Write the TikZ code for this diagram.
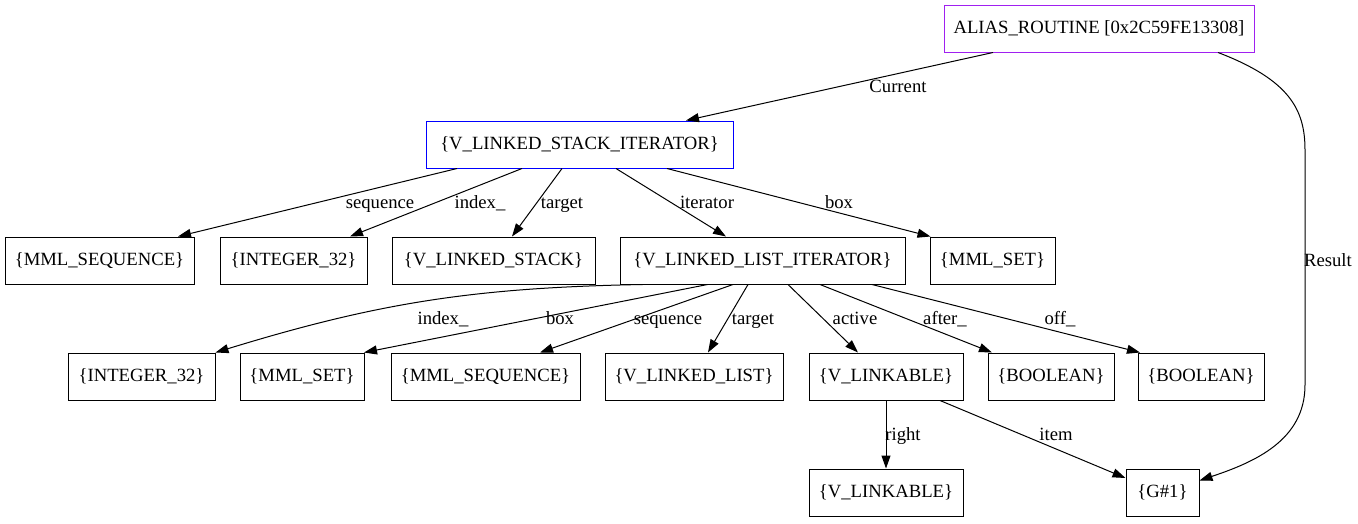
\documentclass[tikz,border=0pt]{standalone}
\usepackage{fontspec}
\setmainfont{Liberation Serif}
\usetikzlibrary{arrows.meta}
\definecolor{gvpurple}{RGB}{160,32,240}
\begin{document}
\begin{tikzpicture}[x=1pt,y=-1pt,
  box/.style={draw, line width=1pt, minimum height=47pt, inner sep=0pt, text height=13pt, text depth=4pt, font=\fontsize{18.67}{22}\selectfont},
  edge/.style={line width=1pt, -{Triangle[length=13pt,width=9pt]}},
  lbl/.style={font=\fontsize{18.67}{22}\selectfont, inner sep=0pt, text height=13pt, text depth=4pt, yshift=-2pt}]
\useasboundingbox[fill=white] (0,0) rectangle (1358,523);
% row 0
\node[box, draw=gvpurple, minimum width=310pt] (alias) at (1099,28.5) {ALIAS\_ROUTINE [0x2C59FE13308]};
% row 1
\node[box, draw=blue, minimum width=307pt] (vlsi) at (579.5,144.5) {\{V\_LINKED\_STACK\_ITERATOR\}};
% row 2
\node[box, minimum width=189pt] (seqa) at (99.5,260.5) {\{MML\_SEQUENCE\}};
\node[box, minimum width=147pt] (inta) at (293.5,260.5) {\{INTEGER\_32\}};
\node[box, minimum width=203pt] (stack) at (493.5,260.5) {\{V\_LINKED\_STACK\}};
\node[box, minimum width=285pt] (vlli) at (762.5,260.5) {\{V\_LINKED\_LIST\_ITERATOR\}};
\node[box, minimum width=125pt] (seta) at (992.5,260.5) {\{MML\_SET\}};
% row 3
\node[box, minimum width=147pt] (intb) at (141.5,376.5) {\{INTEGER\_32\}};
\node[box, minimum width=124pt] (setb) at (302,376.5) {\{MML\_SET\}};
\node[box, minimum width=189pt] (seqb) at (485.5,376.5) {\{MML\_SEQUENCE\}};
\node[box, minimum width=178pt] (list) at (694,376.5) {\{V\_LINKED\_LIST\}};
\node[box, minimum width=154pt] (linka) at (886,376.5) {\{V\_LINKABLE\}};
\node[box, minimum width=126pt] (boola) at (1051,376.5) {\{BOOLEAN\}};
\node[box, minimum width=126pt] (boolb) at (1201,376.5) {\{BOOLEAN\}};
% row 4
\node[box, minimum width=154pt] (linkb) at (886,492.5) {\{V\_LINKABLE\}};
\node[box, minimum width=73pt] (g) at (1162.5,492.5) {\{G\#1\}};
% edges from alias
\draw[edge] ([xshift=-106pt]alias.south) -- ([xshift=106.5pt]vlsi.north)
  node[lbl] at (898,86) {Current};
\draw[edge] ([xshift=119pt]alias.south) .. controls (1290,80) and (1305,110) .. (1305,150)
  -- (1305,385) .. controls (1305,440) and (1255,462) .. ([yshift=12pt]g.east)
  node[lbl] at (1328,260) {Result};
% edges from vlsi
\draw[edge] ([xshift=-122.5pt]vlsi.south) -- ([xshift=78.5pt]seqa.north)
  node[lbl] at (380,202) {sequence};
\draw[edge] ([xshift=-57.5pt]vlsi.south) -- ([xshift=56.5pt]inta.north)
  node[lbl] at (480,202) {index\_};
\draw[edge] ([xshift=-17.5pt]vlsi.south) -- ([xshift=18.5pt]stack.north)
  node[lbl] at (562,202) {target};
\draw[edge] ([xshift=36.5pt]vlsi.south) -- ([xshift=-36.5pt]vlli.north)
  node[lbl] at (707,202) {iterator};
\draw[edge] ([xshift=87.5pt]vlsi.south) -- ([xshift=-62pt]seta.north)
  node[lbl] at (839,202) {box};
% edges from vlli
\draw[edge] ([xshift=-120pt]vlli.south) to[bend right=8] ([xshift=74pt]intb.north)
  node[lbl] at (443,318) {index\_};
\draw[edge] ([xshift=-55pt]vlli.south) -- ([xshift=62pt]setb.north)
  node[lbl] at (560,318) {box};
\draw[edge] ([xshift=-29.5pt]vlli.south) -- ([xshift=54.5pt]seqb.north)
  node[lbl] at (668,318) {sequence};
\draw[edge] ([xshift=-14.5pt]vlli.south) -- ([xshift=14pt]list.north)
  node[lbl] at (753,318) {target};
\draw[edge] ([xshift=25.5pt]vlli.south) -- ([xshift=-28pt]linka.north)
  node[lbl] at (855,318) {active};
\draw[edge] ([xshift=57.5pt]vlli.south) -- ([xshift=-59pt]boola.north)
  node[lbl] at (945,318) {after\_};
\draw[edge] ([xshift=109.5pt]vlli.south) -- ([xshift=-61pt]boolb.north)
  node[lbl] at (1060,318) {off\_};
% edges from linka
\draw[edge] (linka.south) -- (linkb.north)
  node[lbl] at (903,434) {right};
\draw[edge] ([xshift=54pt]linka.south) -- ([yshift=14.5pt]g.west)
  node[lbl] at (1056,434) {item};
\end{tikzpicture}
\end{document}
